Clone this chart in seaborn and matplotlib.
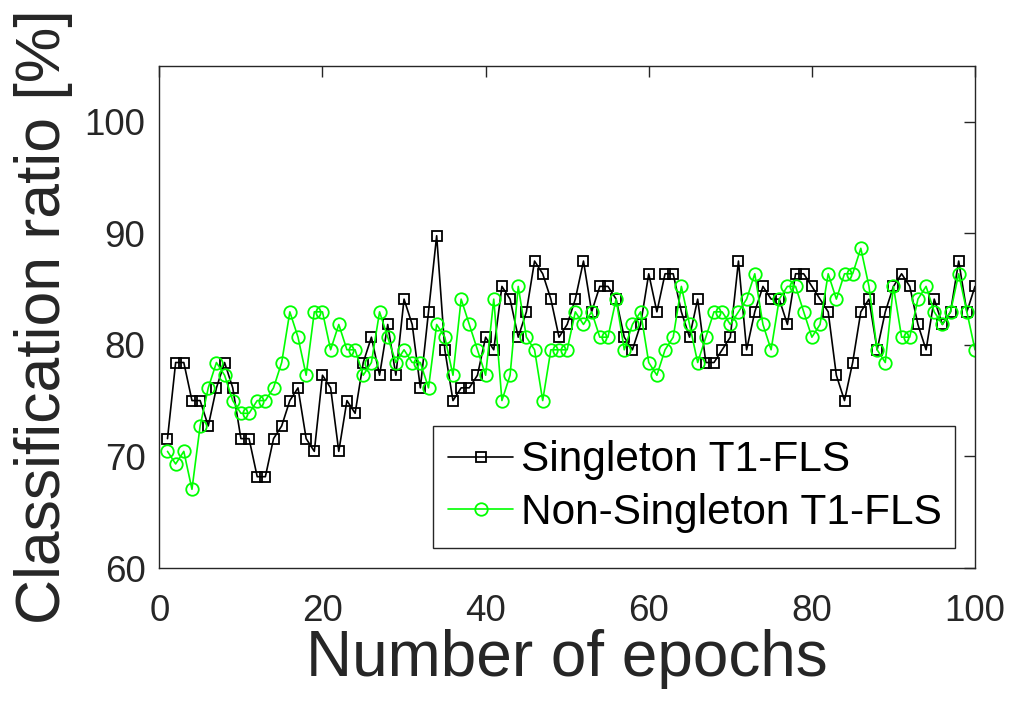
import numpy as np
import pandas as pd
import matplotlib
matplotlib.use("Agg")
import matplotlib.pyplot as plt
import seaborn as sns

# Datos (ratio de clasificación en %, épocas 1..100)
epocas = list(range(1, 101))

singleton = [
    71.59, 78.41, 78.41, 75.00, 75.00, 72.73, 76.14, 78.41, 76.14, 71.59,
    71.59, 68.18, 68.18, 71.59, 72.73, 75.00, 76.14, 71.59, 70.45, 77.27,
    76.14, 70.45, 75.00, 73.86, 78.41, 80.68, 77.27, 81.82, 77.27, 84.09,
    81.82, 76.14, 82.95, 89.77, 79.55, 75.00, 76.14, 76.14, 77.27, 80.68,
    79.55, 85.23, 84.09, 80.68, 82.95, 87.50, 86.36, 84.09, 80.68, 81.82,
    84.09, 87.50, 82.95, 85.23, 85.23, 84.09, 80.68, 79.55, 81.82, 86.36,
    82.95, 86.36, 86.36, 82.95, 80.68, 84.09, 78.41, 78.41, 79.55, 80.68,
    87.50, 79.55, 82.95, 85.23, 84.09, 84.09, 81.82, 86.36, 86.36, 85.23,
    84.09, 82.95, 77.27, 75.00, 78.41, 82.95, 84.09, 79.55, 82.95, 85.23,
    86.36, 85.23, 81.82, 79.55, 84.09, 81.82, 82.95, 87.50, 82.95, 85.23,
]

non_singleton = [
    70.45, 69.32, 70.45, 67.05, 72.73, 76.14, 78.41, 77.27, 75.00, 73.86,
    73.86, 75.00, 75.00, 76.14, 78.41, 82.95, 80.68, 77.27, 82.95, 82.95,
    79.55, 81.82, 79.55, 79.55, 77.27, 78.41, 82.95, 80.68, 78.41, 79.55,
    78.41, 78.41, 76.14, 81.82, 80.68, 77.27, 84.09, 81.82, 79.55, 77.27,
    84.09, 75.00, 77.27, 85.23, 80.68, 79.55, 75.00, 79.55, 79.55, 79.55,
    82.95, 81.82, 82.95, 80.68, 80.68, 84.09, 79.55, 81.82, 82.95, 78.41,
    77.27, 79.55, 80.68, 85.23, 81.82, 78.41, 80.68, 82.95, 82.95, 81.82,
    82.95, 84.09, 86.36, 81.82, 79.55, 84.09, 85.23, 85.23, 82.95, 80.68,
    81.82, 86.36, 84.09, 86.36, 86.36, 88.64, 85.23, 79.55, 78.41, 85.23,
    80.68, 80.68, 84.09, 85.23, 82.95, 81.82, 82.95, 86.36, 82.95, 79.55,
]

etiquetas = ["Singleton T1-FLS", "Non-Singleton T1-FLS"]
x_ticks = [0, 20, 40, 60, 80, 100]
y_ticks = [60, 70, 80, 90, 100]

sns.set_style("white")
plt.rcParams['font.family'] = ['Liberation Sans', 'DejaVu Sans']
gris = "#262626"

fig = plt.figure(figsize=(10.11, 7.11), dpi=100)
ax = fig.add_axes([0.1576, 0.2011, 0.8068, 0.7065])

df = pd.DataFrame({"epoca": epocas, "s": singleton, "ns": non_singleton})

sns.lineplot(data=df, x="epoca", y="s", ax=ax, color="black", lw=1.2,
             marker="s", markersize=7, markerfacecolor="none",
             markeredgecolor="black", markeredgewidth=1.3,
             label=etiquetas[0], errorbar=None)
sns.lineplot(data=df, x="epoca", y="ns", ax=ax, color="#00ff00", lw=1.2,
             marker="o", markersize=9, markerfacecolor="none",
             markeredgecolor="#00ff00", markeredgewidth=1.3,
             label=etiquetas[1], errorbar=None)

ax.set_xlim(0, 100)
ax.set_ylim(60, 105)
ax.set_xticks(x_ticks)
ax.set_yticks(y_ticks)
ax.tick_params(direction="in", length=8, width=1, colors=gris,
               labelsize=26.5, top=True, right=True)
ax.tick_params(axis="x", pad=19)
ax.tick_params(axis="y", pad=10)
for s in ax.spines.values():
    s.set_color(gris)
    s.set_linewidth(1)

ax.set_xlabel("Number of epochs", fontsize=46, color=gris, labelpad=0)
ax.set_ylabel("Classification ratio [%]", fontsize=45, color=gris, labelpad=8)

# Leyenda con el mismo ancho que la original
leg = ax.legend(loc="lower left", bbox_to_anchor=(0.3355, 0.0398, 0.64, 0.2389),
                mode="expand", fontsize=30.5, frameon=True, fancybox=False,
                framealpha=1, edgecolor=gris, handlelength=1.55,
                handletextpad=0.18, borderpad=0.35, labelspacing=0.3,
                borderaxespad=0, labelcolor="black")
leg.get_frame().set_linewidth(1)

fig.savefig("out.png", dpi=100)
